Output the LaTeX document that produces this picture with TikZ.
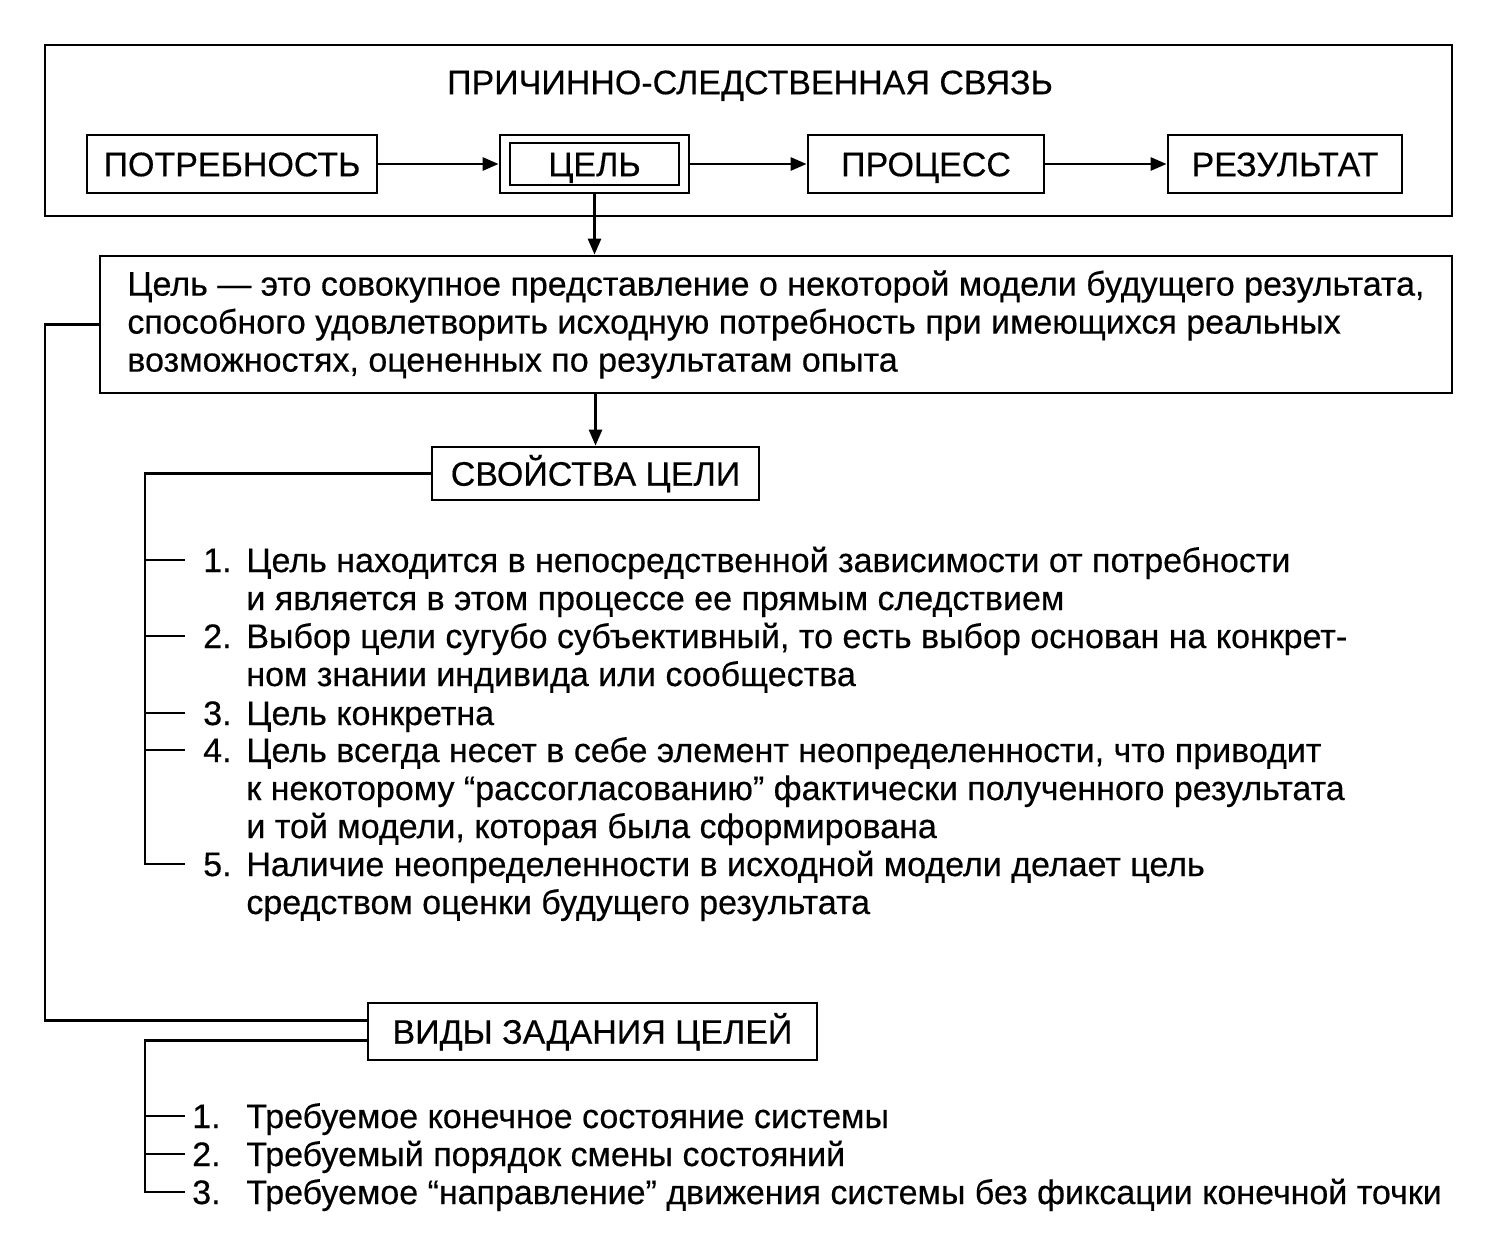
\documentclass[tikz,border=0pt]{standalone}
\usepackage{fontspec}
\setmainfont{Liberation Sans}[FakeBold=0.4]
\usetikzlibrary{arrows.meta,positioning}
\begin{document}
\begin{tikzpicture}
[x=0.5pt,y=-0.5pt,line width=1.4pt,
 box/.style={draw,rectangle,inner sep=0pt,text height=12.2pt,text depth=0pt,font=\fontsize{17pt}{19pt}\selectfont},
 item/.style={inner sep=0pt,align=left,anchor=base west,font=\fontsize{17pt}{19pt}\selectfont},
 num/.style={inner sep=0pt,anchor=base east,font=\fontsize{17pt}{19pt}\selectfont},
 arr/.style={-{Triangle[length=8pt,width=6.5pt]}}]
\useasboundingbox (0,0) rectangle (1497,1237);
\node[draw,minimum width=703.5pt,minimum height=85.5pt] (chain) at (748.5,130.5) {};
\node[inner sep=0pt,text height=12.2pt,text depth=0pt,font=\fontsize{17pt}{19pt}\selectfont] (title) at (750,82) {ПРИЧИННО-СЛЕДСТВЕННАЯ СВЯЗЬ};
\node[box,minimum width=145pt,minimum height=29pt] (need) at (232,164) {ПОТРЕБНОСТЬ};
\node[box,minimum width=94.5pt,minimum height=29pt] (goalo) at (594.5,164) {};
\node[box,minimum width=84.5pt,minimum height=21pt] (goal) at (goalo) {ЦЕЛЬ};
\node[box,minimum width=118pt,minimum height=29pt] (proc) at (926,164) {ПРОЦЕСС};
\node[box,minimum width=117pt,minimum height=29pt] (res) at (1285,164) {РЕЗУЛЬТАТ};
\draw[arr] (need) -- (goalo);
\draw[arr] (goalo) -- (proc);
\draw[arr] (proc) -- (res);
\node[draw,align=left,inner sep=0pt,minimum width=676pt,minimum height=68.5pt,
 font=\fontsize{17pt}{19pt}\selectfont] (def) at (776,324.5)
 {Цель — это совокупное представление о некоторой модели будущего результата,\\
 способного удовлетворить исходную потребность при имеющихся реальных\\
 возможностях, оцененных по результатам опыта};
\draw[arr] (goalo.south) -- (goalo.south |- def.north);
\node[box,minimum width=163.5pt,minimum height=26.5pt] (props) at (595.5,473.5) {СВОЙСТВА ЦЕЛИ};
\draw[arr] (props.north |- def.south) -- (props.north);
\node[box,minimum width=224.5pt,minimum height=28.5pt] (kinds) at (592.5,1031.5) {ВИДЫ ЗАДАНИЯ ЦЕЛЕЙ};
\coordinate (rail) at (45,0);
\draw (def.west) -- (def.west -| rail) |- ([yshift=5.5pt]kinds.west);
\node[num] (n1) at (233,572) {1.};
\node[item] (p1) at (245,610) {Цель находится в непосредственной зависимости от потребности\\
 и является в этом процессе ее прямым следствием};
\node[num] (n2) at (233,648) {2.};
\node[item] (p2) at (245,686) {Выбор цели сугубо субъективный, то есть выбор основан на конкрет-\\
 ном знании индивида или сообщества};
\node[num] (n3) at (233,725) {3.};
\node[item] (p3) at (245,725) {Цель конкретна};
\node[num] (n4) at (233,762) {4.};
\node[item] (p4) at (245,838) {Цель всегда несет в себе элемент неопределенности, что приводит\\
 к некоторому “рассогласованию” фактически полученного результата\\
 и той модели, которая была сформирована};
\node[num] (n5) at (233,876) {5.};
\node[item] (p5) at (245,914) {Наличие неопределенности в исходной модели делает цель\\
 средством оценки будущего результата};
\coordinate (s1) at (185,560);
\coordinate (s2) at (185,636);
\coordinate (s3) at (185,713);
\coordinate (s4) at (185,750);
\coordinate (s5) at (185,864);
\draw (props.west) -| ([xshift=-20pt]s5) -- (s5);
\draw (s1) -- ++(-20pt,0);
\draw (s2) -- ++(-20pt,0);
\draw (s3) -- ++(-20pt,0);
\draw (s4) -- ++(-20pt,0);
\node[num] (m1) at (222,1128) {1.};
\node[item] (q1) at (245,1128) {Требуемое конечное состояние системы};
\node[num] (m2) at (222,1166) {2.};
\node[item] (q2) at (245,1166) {Требуемый порядок смены состояний};
\node[num] (m3) at (222,1204) {3.};
\node[item] (q3) at (245,1204) {Требуемое “направление” движения системы без фиксации конечной точки};
\coordinate (k1) at (185,1116);
\coordinate (k2) at (185,1154);
\coordinate (k3) at (185,1192);
\draw ([yshift=-4.5pt]kinds.west) -| ([xshift=-20pt]k3) -- (k3);
\draw (k1) -- ++(-20pt,0);
\draw (k2) -- ++(-20pt,0);
\end{tikzpicture}
\end{document}
